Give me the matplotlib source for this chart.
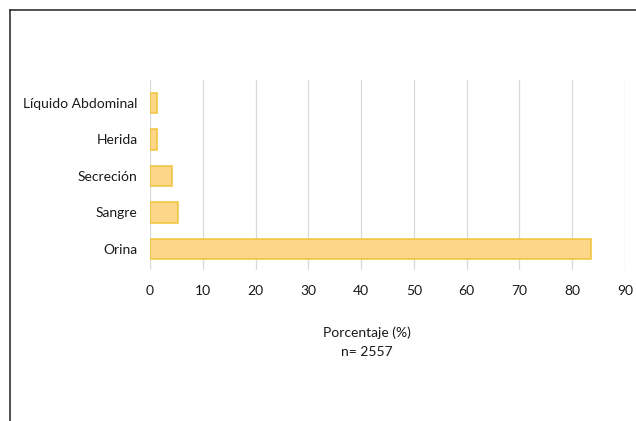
import matplotlib.pyplot as plt
from matplotlib.lines import Line2D

categories = ['Orina', 'Sangre', 'Secreción', 'Herida', 'Líquido Abdominal']
porcentaje = [83.6, 5.3, 4.2, 1.4, 1.4]
xticks = [0, 10, 20, 30, 40, 50, 60, 70, 80, 90]

plt.rcParams['font.family'] = ['Lato', 'DejaVu Sans']

W, H = 636, 421
fig = plt.figure(figsize=(W / 100, H / 100), dpi=100)
ax = fig.add_axes([150 / W, 1 - 270 / H, (625 - 150) / W, (270 - 80) / H])

ypos = range(len(categories))
ax.barh(ypos, porcentaje, height=0.56, color='#FDD68A', edgecolor='#F0C23A',
        linewidth=1.1, zorder=3)

ax.set_xlim(0, 90)
ax.set_ylim(-0.58, 4.63)
ax.set_xticks(xticks)
ax.set_xticklabels([str(t) for t in xticks])
ax.set_yticks(list(ypos))
ax.set_yticklabels(categories)
ax.grid(axis='x', color='#D9D9D9', linewidth=0.9, zorder=0)
ax.grid(axis='y', visible=False)
for s in ax.spines.values():
    s.set_visible(False)
ax.tick_params(axis='both', length=0, labelsize=10, colors='#1a1a1a')
ax.tick_params(axis='x', pad=11)
ax.tick_params(axis='y', pad=9)

fig.text(367 / W, 1 - 333 / H, 'Porcentaje (%)', ha='center', va='center',
         fontsize=10, color='#1a1a1a')
fig.text(367 / W, 1 - 352 / H, 'n= 2557', ha='center', va='center',
         fontsize=10, color='#1a1a1a')

# outer frame (only top and left visible in the crop)
fig.add_artist(Line2D([10 / W, 1], [1 - 10 / H, 1 - 10 / H], color='#333333',
                      linewidth=1.2, transform=fig.transFigure))
fig.add_artist(Line2D([10 / W, 10 / W], [0, 1 - 10 / H], color='#333333',
                      linewidth=1.2, transform=fig.transFigure))

fig.savefig('out.png', dpi=100)
